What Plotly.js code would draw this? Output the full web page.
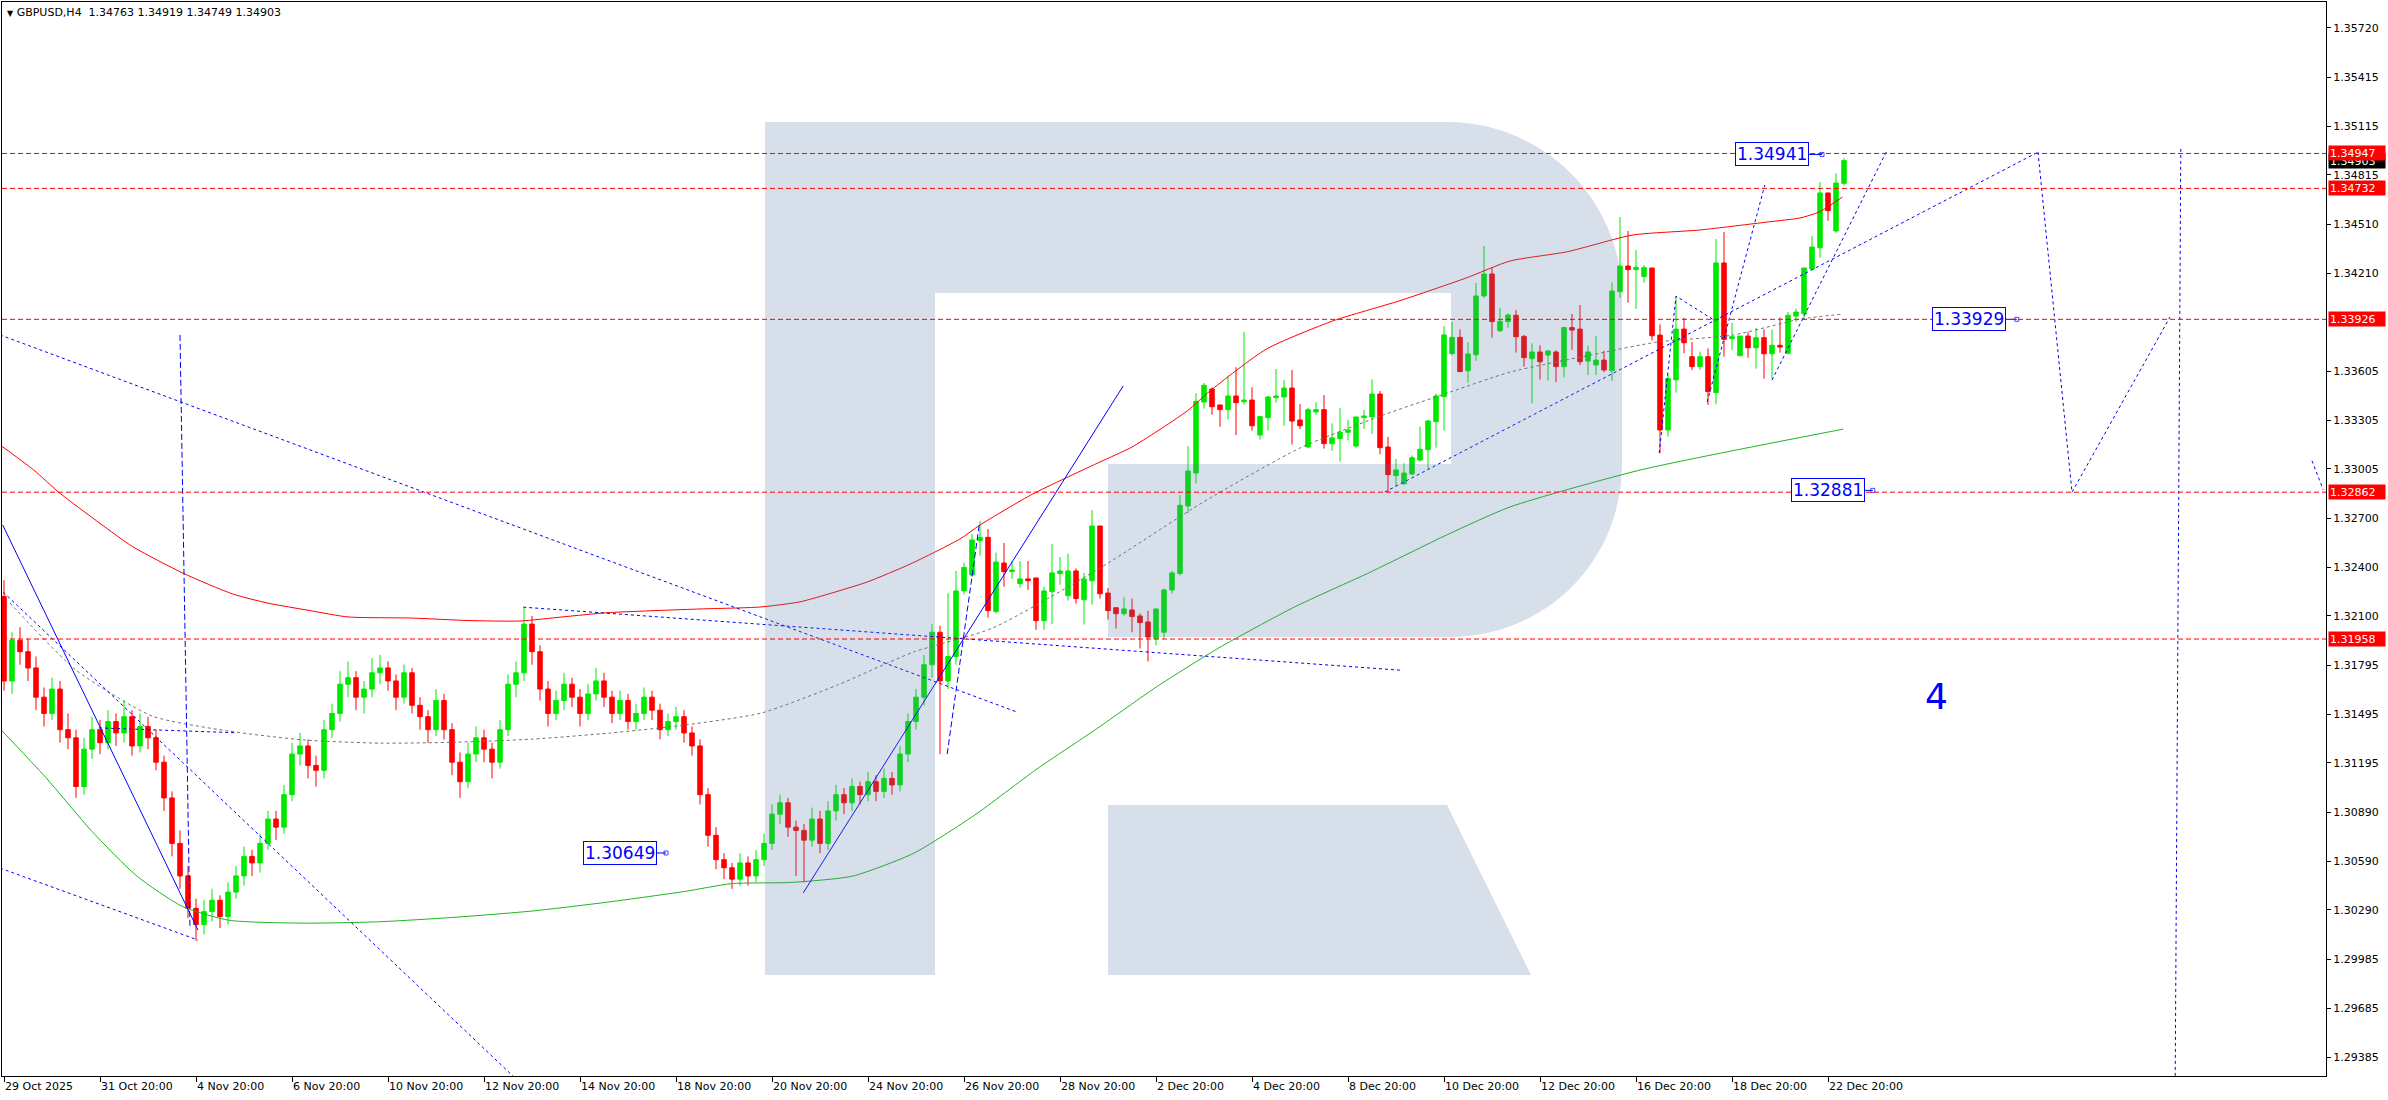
<!DOCTYPE html>
<html><head><meta charset="utf-8">
<script src="https://cdn.plot.ly/plotly-3.0.1.min.js"></script>
<style>html,body{margin:0;padding:0;background:#fff;overflow:hidden}#chart{width:2388px;height:1100px}</style>
</head><body><div id="chart"></div>
<script>
// ---------------- DATA ----------------
const symbolName = 'GBPUSD,H4';
const openP = [
1.3222,1.3170,1.3195,1.3188,1.3178,1.3160,1.3150,1.3165,1.3140,1.3135,
1.3105,1.3128,1.3140,1.3132,1.3145,1.3138,1.3148,1.3130,1.3142,1.3135,
1.3120,1.3098,1.3070,1.3050,1.3030,1.3020,1.3028,1.3035,1.3025,1.3040,
1.3050,1.3062,1.3058,1.3070,1.3085,1.3080,1.3100,1.3125,1.3130,1.3118,
1.3115,1.3140,1.3150,1.3168,1.3172,1.3160,1.3165,1.3175,1.3178,1.3170,
1.3160,1.3175,1.3155,1.3148,1.3140,1.3158,1.3140,1.3120,1.3108,1.3125,
1.3135,1.3128,1.3120,1.3140,1.3168,1.3175,1.3205,1.3188,1.3165,1.3150,
1.3158,1.3168,1.3160,1.3150,1.3162,1.3170,1.3160,1.3150,1.3158,1.3145,
1.3150,1.3160,1.3152,1.3140,1.3145,1.3148,1.3138,1.3130,1.3100,1.3075,
1.3060,1.3055,1.3048,1.3058,1.3050,1.3060,1.3070,1.3088,1.3095,1.3080,
1.3078,1.3072,1.3085,1.3070,1.3090,1.3100,1.3095,1.3105,1.3100,1.3108,
1.3102,1.3110,1.3106,1.3125,1.3145,1.3160,1.3180,1.3200,1.3170,
1.3185,1.32254,1.32352,1.32564,1.32584,1.32127,1.32426,1.32373,1.32299,1.32328,
1.32334,1.32071,1.32250,1.32361,1.32225,1.32377,1.32200,1.32317,1.32654,1.32241,
1.32151,1.32114,1.32137,1.32100,1.32063,1.31960,1.32000,1.32260,1.32361,1.32777,
1.32980,1.33417,1.33497,1.33399,1.33370,1.33454,1.33419,1.33429,1.33214,1.33321,
1.33444,1.33448,1.33503,1.33306,1.33140,1.33356,1.33370,1.33161,1.33192,1.33231,
1.33146,1.33321,1.33325,1.33466,1.33140,1.32964,1.32914,1.32974,1.33060,1.33124,
1.33296,1.33450,1.33715,1.33815,1.33610,1.33708,1.34070,1.34205,1.33856,1.33912,
1.33951,1.33821,1.33684,1.33725,1.33706,1.33725,1.33635,1.33875,1.33866,1.33669,
1.33645,1.33675,1.33610,1.34096,1.34254,1.34232,1.34189,1.34242,1.33829,1.33245,
1.33554,1.33866,1.33696,1.33635,1.33696,1.33475,1.34273,1.33807,1.33702,1.33823,
1.33751,1.33813,1.33714,1.33766,1.33717,1.33946,1.33961,1.34236,1.34367,1.34704,
1.34470,1.34763];
const highP = [
1.3232,1.3200,1.3203,1.3196,1.3185,1.3166,1.3172,1.3170,1.3150,1.3140,
1.3135,1.3148,1.3146,1.3152,1.3150,1.3158,1.3152,1.3150,1.3148,1.3140,
1.3124,1.3102,1.3078,1.3056,1.3036,1.3035,1.3042,1.3038,1.3046,1.3056,
1.3068,1.3066,1.3076,1.3090,1.3090,1.3106,1.3132,1.3138,1.3134,1.3124,
1.3146,1.3156,1.3176,1.3182,1.3176,1.3170,1.3184,1.3186,1.3182,1.3174,
1.3180,1.3178,1.3160,1.3152,1.3165,1.3162,1.3144,1.3126,1.3132,1.3142,
1.3140,1.3132,1.3146,1.3174,1.3182,1.3215,1.3210,1.3192,1.3170,1.3164,
1.3175,1.3172,1.3165,1.3168,1.3178,1.3175,1.3164,1.3164,1.3162,1.3156,
1.3166,1.3164,1.3156,1.3150,1.3154,1.3152,1.3142,1.3134,1.3104,1.3080,
1.3064,1.3058,1.3064,1.3062,1.3066,1.3076,1.3094,1.3100,1.3098,1.3084,
1.3082,1.3092,1.3090,1.3096,1.3106,1.3104,1.3110,1.3108,1.3114,1.3112,
1.3116,1.3114,1.3130,1.3150,1.3165,1.3186,1.3205,1.3204,1.3224,
1.32377,1.32428,1.32605,1.32685,1.32635,1.32490,1.32549,1.32438,1.32438,1.32438,
1.32334,1.32280,1.32543,1.32463,1.32484,1.32393,1.32365,1.32752,1.32654,1.32272,
1.32151,1.32215,1.32207,1.32116,1.32131,1.32143,1.32268,1.32377,1.32843,1.33146,
1.33471,1.33534,1.33507,1.33399,1.33581,1.33631,1.33848,1.33507,1.33331,1.33454,
1.33620,1.33552,1.33614,1.33405,1.33380,1.33415,1.33460,1.33286,1.33380,1.33306,
1.33325,1.33368,1.33557,1.33485,1.33202,1.33066,1.33040,1.33089,1.33265,1.33306,
1.33470,1.33885,1.33910,1.33864,1.33785,1.34150,1.34378,1.34246,1.33996,1.33963,
1.33983,1.33830,1.33778,1.33766,1.33737,1.33735,1.33881,1.33959,1.34014,1.33764,
1.33823,1.33733,1.34154,1.34556,1.34470,1.34353,1.34260,1.34242,1.33895,1.33589,
1.34065,1.33936,1.33786,1.33727,1.33747,1.34420,1.34463,1.33903,1.33823,1.33850,
1.33874,1.33864,1.33864,1.33938,1.33971,1.33992,1.34242,1.34439,1.34771,1.34704,
1.34825,1.34919];
const lowP = [
1.3164,1.3162,1.3180,1.3170,1.3152,1.3142,1.3146,1.3132,1.3128,1.3098,
1.3100,1.3122,1.3125,1.3128,1.3130,1.3132,1.3124,1.3126,1.3128,1.3115,
1.3090,1.3062,1.3042,1.3024,1.3010,1.3014,1.3022,1.3018,1.3020,1.3036,
1.3044,1.3050,1.3052,1.3066,1.3072,1.3076,1.3096,1.3118,1.3110,1.3105,
1.3110,1.3135,1.3145,1.3160,1.3152,1.3150,1.3160,1.3168,1.3164,1.3152,
1.3156,1.3150,1.3140,1.3132,1.3136,1.3134,1.3112,1.3098,1.3104,1.3120,
1.3120,1.3110,1.3116,1.3136,1.3160,1.3170,1.3180,1.3158,1.3142,1.3146,
1.3152,1.3154,1.3142,1.3146,1.3158,1.3154,1.3144,1.3146,1.3140,1.3140,
1.3146,1.3146,1.3134,1.3136,1.3140,1.3132,1.3124,1.3094,1.3068,1.3054,
1.3048,1.3042,1.3044,1.3044,1.3046,1.3056,1.3066,1.3082,1.3074,1.3050,
1.3046,1.3068,1.3064,1.3066,1.3084,1.3088,1.3090,1.3094,1.3096,1.3096,
1.3098,1.3100,1.3102,1.3120,1.3140,1.3155,1.3172,1.3125,1.3165,
1.31800,1.32233,1.32340,1.32471,1.32090,1.32116,1.32280,1.32328,1.32274,1.32260,
1.32014,1.32014,1.32051,1.32293,1.32194,1.32176,1.32047,1.32170,1.32207,1.32077,
1.32022,1.32102,1.32000,1.31900,1.31820,1.31920,1.31960,1.32238,1.32348,1.32732,
1.32916,1.33376,1.33339,1.33265,1.33310,1.33214,1.33401,1.33241,1.33185,1.33241,
1.33413,1.33271,1.33155,1.33251,1.33134,1.33339,1.33130,1.33116,1.33050,1.33181,
1.33136,1.33251,1.33220,1.33095,1.32861,1.32900,1.32906,1.32966,1.33050,1.33005,
1.33136,1.33241,1.33704,1.33604,1.33536,1.33670,1.34059,1.33813,1.33848,1.33875,
1.33721,1.33635,1.33409,1.33555,1.33548,1.33540,1.33569,1.33739,1.33645,1.33583,
1.33583,1.33600,1.33548,1.34059,1.34029,1.33990,1.34152,1.33795,1.33101,1.33204,
1.33475,1.33717,1.33614,1.33614,1.33399,1.33403,1.33696,1.33737,1.33702,1.33690,
1.33622,1.33561,1.33561,1.33721,1.33710,1.33911,1.33926,1.34230,1.34306,1.34533,
1.34459,1.34749];
const closeP = [
1.3170,1.3195,1.3188,1.3178,1.3160,1.3150,1.3165,1.3140,1.3135,1.3105,
1.3128,1.3140,1.3132,1.3145,1.3138,1.3148,1.3130,1.3142,1.3135,1.3120,
1.3098,1.3070,1.3050,1.3030,1.3020,1.3028,1.3035,1.3025,1.3040,1.3050,
1.3062,1.3058,1.3070,1.3085,1.3080,1.3100,1.3125,1.3130,1.3118,1.3115,
1.3140,1.3150,1.3168,1.3172,1.3160,1.3165,1.3175,1.3178,1.3170,1.3160,
1.3175,1.3155,1.3148,1.3140,1.3158,1.3140,1.3120,1.3108,1.3125,1.3135,
1.3128,1.3120,1.3140,1.3168,1.3175,1.3205,1.3188,1.3165,1.3150,1.3158,
1.3168,1.3160,1.3150,1.3162,1.3170,1.3160,1.3150,1.3158,1.3145,1.3150,
1.3160,1.3152,1.3140,1.3145,1.3148,1.3138,1.3130,1.3100,1.3075,1.3060,
1.3055,1.3048,1.3058,1.3050,1.3060,1.3070,1.3088,1.3095,1.3080,1.3078,
1.3072,1.3085,1.3070,1.3090,1.3100,1.3095,1.3105,1.3100,1.3108,1.3102,
1.3110,1.3106,1.3125,1.3145,1.3160,1.3180,1.3200,1.3170,1.3185,
1.32254,1.32399,1.32568,1.32584,1.32133,1.32432,1.32373,1.32383,1.32328,1.32317,
1.32071,1.32254,1.32365,1.32377,1.32377,1.32207,1.32328,1.32654,1.32237,1.32133,
1.32114,1.32143,1.32096,1.32059,1.31970,1.32143,1.32260,1.32365,1.32781,1.32992,
1.33421,1.33520,1.33388,1.33370,1.33454,1.33413,1.33429,1.33271,1.33327,1.33448,
1.33454,1.33503,1.33300,1.33271,1.33370,1.33370,1.33161,1.33196,1.33231,1.33245,
1.33325,1.33331,1.33466,1.33136,1.32970,1.32999,1.32980,1.33074,1.33126,1.33300,
1.33454,1.33830,1.33815,1.33604,1.33713,1.34070,1.34205,1.33912,1.33914,1.33953,
1.33819,1.33690,1.33725,1.33665,1.33731,1.33635,1.33875,1.33860,1.33665,1.33725,
1.33675,1.33614,1.34100,1.34254,1.34232,1.34246,1.34244,1.33825,1.33245,1.33561,
1.33866,1.33782,1.33635,1.33696,1.33481,1.34273,1.33803,1.33819,1.33823,1.33751,
1.33813,1.33714,1.33766,1.33755,1.33951,1.33971,1.34242,1.34371,1.34704,1.34595,
1.34765,1.34903];

// moving averages: [bar index, price]
const maRedIdx = [-0.5,3.7,7,12,16.1,22.4,28.6,32.9,38.25,43,51,58,64.5,70,75.4,87,94.5,99.5,103.6,107.9,113.3,119.5,122,128.6,137,141,147.9,150.75,157.8,166.1,174.5,182.8,188.25,195.4,203.6,212,220.4,224.5,227,229.8];
const maRedVal = [1.33153,1.32999,1.32855,1.32670,1.32526,1.32363,1.32235,1.32180,1.32133,1.32094,1.32087,1.32072,1.32069,1.32095,1.32120,1.32143,1.32155,1.32187,1.32243,1.32309,1.32420,1.32574,1.32660,1.32851,1.33048,1.33140,1.33362,1.33485,1.33743,1.33916,1.34041,1.34181,1.34285,1.34342,1.34445,1.34476,1.34525,1.34550,1.34589,1.34679];
const maGreenIdx = [-0.5,5.2,10.9,16.6,22.3,28.1,37.6,47.1,56.6,66.1,75.7,85.2,90.9,98.5,106.1,113.7,121.3,129,136.6,144.2,151.8,161.3,170.8,180.4,188.25,204.5,229.9];
const maGreenVal = [1.31406,1.31107,1.30779,1.30499,1.30312,1.30227,1.30209,1.30218,1.30246,1.30284,1.30340,1.30405,1.30452,1.30460,1.30499,1.30639,1.30873,1.31154,1.31406,1.31668,1.31902,1.32155,1.32370,1.32600,1.32771,1.32998,1.33250];
const maGrayIdx = [0.75,9,18.5,28,37.6,47.1,56.6,66.1,75.7,85.2,94.7,104.2,113.7,123.6,137,149.9,162,172.4,180.75,188.25,199.5,206.6,216.1,224.5,229.75];
const maGrayVal = [1.32180,1.31767,1.31484,1.31392,1.31336,1.31317,1.31323,1.31342,1.31379,1.31429,1.31503,1.31675,1.31878,1.32026,1.32395,1.32801,1.33134,1.33337,1.33478,1.33601,1.33718,1.33786,1.33829,1.33927,1.33958];

// trend lines / forecast path: lists of [bar index, price]
const solidLines = [
  [[-0.16,1.32660],[24.25,1.30166]],
  [[99.9,1.30395],[139.9,1.33516]]
];
const dottedLines = [
  [[-0.5,1.33830],[126.6,1.31509]],
  [[-0.5,1.30548],[24.25,1.30105]],
  [[-0.1,1.32247],[64,1.29250]],
  [[11.9,1.31411],[29,1.31381]],
  [[64.9,1.32154],[174.6,1.31766]],
  [[172.6,1.32863],[254.25,1.34955]],
  [[206.9,1.33103],[209,1.34069],[213.75,1.33921]],
  [[212.9,1.33418],[220.1,1.34753]],
  [[221,1.33552],[235.4,1.34968]],
  [[254.25,1.34955],[258.5,1.32862],[270.75,1.33940]],
  [[272.1,1.34975],[271.4,1.29250]],
  [[288.5,1.33055],[289.9,1.32877]]
];
const dashedLines = [
  [[22,1.33830],[23.25,1.30173]],
  [[117.9,1.31250],[121.9,1.32660]]
];

// boxed price labels
const boxText = ['1.30649','1.34941','1.33929','1.32881'];
const boxIdx  = [77, 221, 245.6, 228];
const boxVal  = [1.30641, 1.34941, 1.33926, 1.32873];
const boxTipIdx = [82.75, 227.25, 251.6, 233.6];
const waveText = '4', waveIdx = 241.6, waveVal = 1.31605;

// horizontal levels and axis labels
const levels = [1.34947, 1.34732, 1.33926, 1.32862, 1.31958];
const currentPrice = 1.34903;
const yTickVals = [1.35720,1.35415,1.35115,1.34815,1.34510,1.34210,1.33605,1.33305,1.33005,1.32700,1.32400,1.32100,1.31795,1.31495,1.31195,1.30890,1.30590,1.30290,1.29985,1.29685,1.29385];
const xTickIdx = [0,12,24,36,48,60,72,84,96,108,120,132,144,156,168,180,192,204,216,228];
const xTickText = ['29 Oct 2025','31 Oct 20:00','4 Nov 20:00','6 Nov 20:00','10 Nov 20:00','12 Nov 20:00','14 Nov 20:00','18 Nov 20:00','20 Nov 20:00','24 Nov 20:00','26 Nov 20:00','28 Nov 20:00','2 Dec 20:00','4 Dec 20:00','8 Dec 20:00','10 Dec 20:00','12 Dec 20:00','16 Dec 20:00','18 Dec 20:00','22 Dec 20:00'];

// ---------------- CHART ----------------
const W = 2388, H = 1100, ML = 2, MT = 2, MR = 62, MB = 24;
const PW = W - ML - MR, PH = H - MT - MB;
const FONT = 'DejaVu Sans, Verdana, sans-serif';
const BLUE = '#0000ff';
const barIdx = openP.map((_, i) => i);

const traces = [];
traces.push({
  type: 'candlestick', x: barIdx, open: openP, high: highP, low: lowP, close: closeP,
  increasing: {line: {color: '#00e800', width: 1}, fillcolor: '#00e800'},
  decreasing: {line: {color: '#ff0000', width: 1}, fillcolor: '#ff0000'},
  whiskerwidth: 0, hoverinfo: 'skip', showlegend: false
});
function addLine(pts, color, dash, width) {
  traces.push({type: 'scatter', mode: 'lines', x: pts.map(p => p[0]), y: pts.map(p => p[1]),
    line: {color: color, width: width || 1, dash: dash}, hoverinfo: 'skip', showlegend: false});
}
traces.push({type:'scatter', mode:'lines', x: maGreenIdx, y: maGreenVal, line:{color:'#1fb41f', width:1, shape:'spline', smoothing:0.6}, hoverinfo:'skip'});
traces.push({type:'scatter', mode:'lines', x: maRedIdx, y: maRedVal, line:{color:'#ff0000', width:1, shape:'spline', smoothing:0.6}, hoverinfo:'skip'});
traces.push({type:'scatter', mode:'lines', x: maGrayIdx, y: maGrayVal, line:{color:'#707070', width:1, shape:'spline', smoothing:0.6, dash:'3px,3px'}, hoverinfo:'skip'});
solidLines.forEach(p => addLine(p, BLUE, 'solid'));
dottedLines.forEach(p => addLine(p, BLUE, '3px,3px'));
dashedLines.forEach(p => addLine(p, BLUE, '6px,3px'));
boxIdx.forEach((bx, i) => {
  traces.push({type:'scatter', mode:'lines+markers', x:[bx + 4.7, boxTipIdx[i]], y:[boxVal[i], boxVal[i]],
    line:{color:BLUE, width:1}, marker:{symbol:['line-ew','square-open'], size:[1,4], color:BLUE, line:{width:1, color:BLUE}}, hoverinfo:'skip'});
});

function P(x, y) { return ((x - ML) / PW).toFixed(5) + ',' + (1 - (y - MT) / PH).toFixed(5); }
const k = 97;
const logoFill = 'rgba(86,123,168,0.243)';
const shapes = [
  {type:'path', xref:'paper', yref:'paper', layer:'above', fillcolor: logoFill, line:{width:0},
   path: 'M' + P(765,122) + ' L' + P(935,122) + ' L' + P(935,975) + ' L' + P(765,975) + ' Z'},
  {type:'path', xref:'paper', yref:'paper', layer:'above', fillcolor: logoFill, line:{width:0},
   path: 'M' + P(935,122) + ' L' + P(1447,122) + ' C' + P(1447+k,122) + ' ' + P(1622,297-k) + ' ' + P(1622,297) +
         ' L' + P(1622,464) + ' C' + P(1622,464+k) + ' ' + P(1449+k,637) + ' ' + P(1449,637) +
         ' L' + P(1108,637) + ' L' + P(1108,464) + ' L' + P(1451,464) + ' L' + P(1451,293) + ' L' + P(935,293) + ' Z'},
  {type:'path', xref:'paper', yref:'paper', layer:'above', fillcolor: logoFill, line:{width:0},
   path: 'M' + P(1108,805) + ' L' + P(1447,805) + ' L' + P(1531,975) + ' L' + P(1108,975) + ' Z'}
];
levels.forEach(v => shapes.push({type:'line', xref:'paper', yref:'y', x0:0, x1:1, y0:v, y1:v, layer:'above',
  line:{color:'#ff0000', width:1, dash:'5px,3px'}}));

const annotations = [];
const last = openP.length - 1;
annotations.push({xref:'paper', yref:'paper', x:0, y:1, xanchor:'left', yanchor:'top', xshift:3, yshift:-2,
  showarrow:false, align:'left', font:{family:FONT, size:11, color:'#000'},
  text: '<span style="font-size:8px">▼</span> ' + symbolName + '  ' + [openP[last], highP[last], lowP[last], closeP[last]].map(v => v.toFixed(5)).join(' ')});
// current-price tag: drawn first so the 1.34947 tag covers its upper half, as in the original
annotations.push({xref:'paper', yref:'y', x:1, y:currentPrice, xanchor:'left', yanchor:'middle', xshift:2,
  showarrow:false, bgcolor:'#000', font:{family:FONT, size:11, color:'#fff'}, text: currentPrice.toFixed(5),
  width:54, height:12, align:'left', borderpad:1});
levels.forEach(v => annotations.push({xref:'paper', yref:'y', x:1, y:v, xanchor:'left', yanchor:'middle', xshift:2,
  showarrow:false, bgcolor:'#ff0000', font:{family:FONT, size:11, color:'#fff'}, text: v.toFixed(5),
  width:54, height:12, align:'left', borderpad:1}));
boxText.forEach((t, i) => annotations.push({xref:'x', yref:'y', x:boxIdx[i], y:boxVal[i], showarrow:false,
  text:t, font:{family:FONT, size:17, color:BLUE}, bgcolor:'#fff', bordercolor:BLUE, borderwidth:1, borderpad:1}));
annotations.push({xref:'x', yref:'y', x:waveIdx, y:waveVal, showarrow:false, text:waveText,
  font:{family:FONT, size:36, color:BLUE}});

const layout = {
  width: W, height: H, margin: {l: ML, r: MR, t: MT, b: MB, pad: 0},
  paper_bgcolor: '#fff', plot_bgcolor: '#fff', showlegend: false,
  boxgap: 0.25, boxgroupgap: 0.25,
  font: {family: FONT, size: 11, color: '#000'},
  xaxis: {range: [-0.25, 290.25], showgrid: false, zeroline: false, showline: true, mirror: true,
    linecolor: '#000', linewidth: 1, ticks: 'outside', ticklen: 5, tickcolor: '#000',
    tickvals: xTickIdx, ticktext: xTickText, ticklabelposition: 'outside right',
    tickfont: {family: FONT, size: 11, color: '#000'}, rangeslider: {visible: false}, fixedrange: true},
  yaxis: {side: 'right', range: [1.292681, 1.358794], showgrid: false, zeroline: false, showline: true, mirror: true,
    linecolor: '#000', linewidth: 1, ticks: 'outside', ticklen: 4, tickcolor: '#000',
    tickvals: yTickVals, ticktext: yTickVals.map(v => v.toFixed(5)),
    tickfont: {family: FONT, size: 11, color: '#000'}, fixedrange: true},
  shapes: shapes, annotations: annotations
};
Plotly.newPlot('chart', traces, layout, {staticPlot: true, displayModeBar: false});
</script>
</body></html>
